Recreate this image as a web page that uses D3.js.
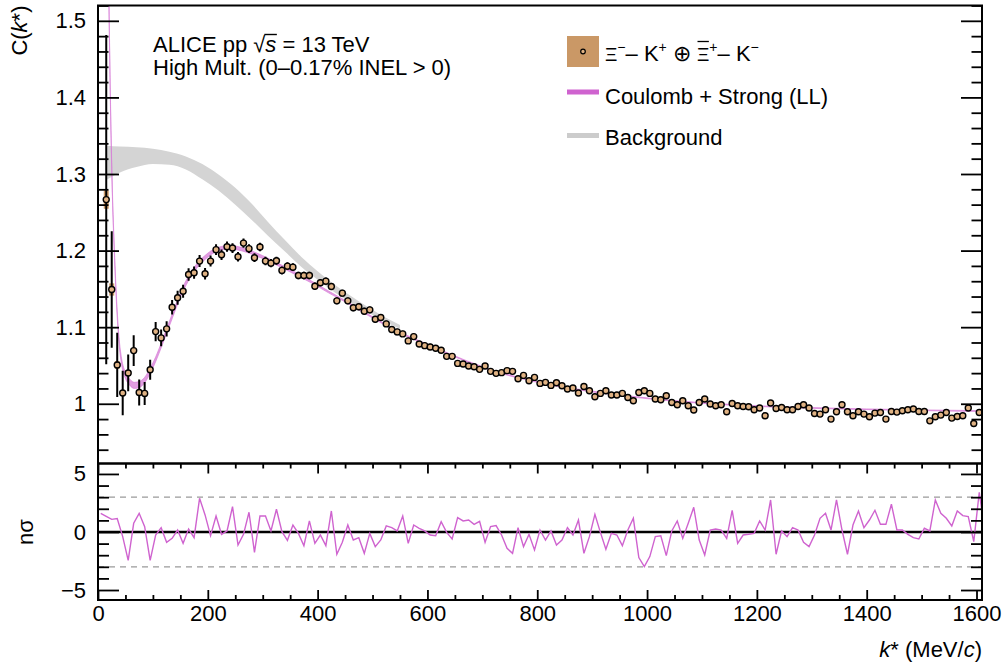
<!DOCTYPE html>
<html>
<head>
<meta charset="utf-8">
<script src="https://cdn.jsdelivr.net/npm/d3@7"></script>
<style>
  body { margin: 0; background: #fff; }
</style>
</head>
<body>
<div id="chart"></div>
<script>
// ---- data ----

// C(k*) histogram, 10 MeV/c bins, first drawn bin centred at 15 MeV/c
var binWidth = 10;
var cFirstBin = 15;
var cValues = [
  1.2666, 1.1492, 1.0507, 1.0140, 1.0402, 1.0694, 1.0148, 1.0135, 1.0445, 1.0942,
  1.0860, 1.0978, 1.1260, 1.1384, 1.1470, 1.1688, 1.1711, 1.1863, 1.1698, 1.1863,
  1.2012, 1.1946, 1.2051, 1.2033, 1.1920, 1.2098, 1.2025, 1.1907, 1.2046, 1.1863,
  1.1836, 1.1868, 1.1741, 1.1797, 1.1784, 1.1675,
  1.1675, 1.1675, 1.1535, 1.1580, 1.1601, 1.1531, 1.1344, 1.1444, 1.1344, 1.1253,
  1.1266, 1.1208, 1.1226, 1.1103, 1.1126, 1.1043, 1.0969, 1.0938, 1.0912, 1.0821,
  1.0877, 1.0781, 1.0759, 1.0742, 1.0724, 1.0698, 1.0619, 1.0619, 1.0527, 1.0519,
  1.0493, 1.0484, 1.0449, 1.0493, 1.0423, 1.0397, 1.0406, 1.0432, 1.0423, 1.0327,
  1.0370, 1.0301, 1.0344, 1.0266, 1.0279, 1.0240, 1.0275, 1.0236, 1.0192, 1.0205,
  1.0140, 1.0226, 1.0170, 1.0092, 1.0135, 1.0170, 1.0114, 1.0114,
  1.0135, 1.0082, 1.0039, 1.0148, 1.0170, 1.0135, 1.0062, 1.0052, 1.0105, 1.0017,
  0.9987, 1.0039, 0.9974, 0.9918, 1.0017, 1.0062, 0.9996, 0.9974, 0.9987, 0.9895,
  1.0004, 0.9974, 0.9965, 0.9961, 0.9921, 0.9944, 0.9843, 1.0009, 0.9938, 0.9952,
  0.9921, 0.9921, 0.9965, 0.9987, 0.9944, 0.9873, 0.9865, 0.9921, 0.9800, 0.9895,
  0.9987, 0.9895, 0.9843, 0.9895, 0.9865, 0.9830, 0.9878, 0.9886, 0.9800, 0.9899,
  0.9891, 0.9908, 0.9921, 0.9931, 0.9899, 0.9899, 0.9777, 0.9830, 0.9852, 0.9886,
  0.9813, 0.9834, 0.9843, 0.9944, 0.9742, 0.9886
];
// statistical errors (only where they stick out of the markers)
var statErr = [
  0.215, 0.076, 0.042, 0.029, 0.024, 0.020, 0.017, 0.015, 0.013, 0.0125,
  0.011, 0.010, 0.0095, 0.009, 0.0085, 0.0082, 0.008, 0.0078, 0.0075, 0.0072,
  0.007, 0.0068, 0.0066, 0.0064, 0.0062, 0.006, 0.0058, 0.0057, 0.0056, 0.0055,
  0.0054, 0.0053, 0.0052, 0.0051, 0.005, 0.005, 0.0049, 0.0048, 0.0048, 0.0047,
  0.0047, 0.0046, 0.0046, 0.0045, 0.0045, 0.0044, 0.0044, 0.0044, 0.0043, 0.0043,
  0.0043, 0.0042, 0.0042, 0.0042, 0.0041, 0.0041, 0.0041, 0.004, 0.004, 0.004
];
// systematic errors (boxes)
var sysErr = [
  0.012, 0.008, 0.005, 0.004, 0.0035, 0.003, 0.003, 0.003, 0.003, 0.003,
  0.0028, 0.0028, 0.0027, 0.0027, 0.0026, 0.0026, 0.0025, 0.0025, 0.0025, 0.0025
];

// Coulomb + Strong (LL) fit band
var fitK = [12, 16, 20, 23, 26, 30, 34, 38, 43, 50,
            58, 66, 75, 85, 95, 105, 115, 125, 135, 150,
            165, 180, 195, 210, 225, 240, 255, 270, 285, 300,
            330, 360, 390, 420, 450, 490, 550, 610, 670, 730,
            790, 850, 910, 970, 1030, 1100, 1200, 1300, 1400, 1500, 1610];
var fitC = [2.2, 1.75, 1.52, 1.38, 1.28, 1.195, 1.13, 1.085, 1.055, 1.037,
            1.028, 1.024, 1.025, 1.031, 1.043, 1.058, 1.076, 1.095, 1.114, 1.142,
            1.164, 1.180, 1.191, 1.199, 1.203, 1.2045, 1.203, 1.200, 1.196, 1.1915,
            1.181, 1.170, 1.1585, 1.146, 1.134, 1.117, 1.093, 1.074, 1.056, 1.041,
            1.030, 1.0215, 1.015, 1.0095, 1.005, 1.001, 0.997, 0.9945, 0.9928, 0.9915, 0.9905];
var fitErr = [0.006, 0.006, 0.005, 0.005, 0.0045, 0.004, 0.004, 0.004, 0.004, 0.004,
              0.004, 0.004, 0.004, 0.0035, 0.0035, 0.003, 0.003, 0.003, 0.003, 0.003,
              0.003, 0.0028, 0.0026, 0.0025, 0.0024, 0.0023, 0.0022, 0.0021, 0.002, 0.0019,
              0.0017, 0.0015, 0.0013, 0.0012, 0.001, 0.0009, 0.0008, 0.0007, 0.0006, 0.0006,
              0.0005, 0.0005, 0.0005, 0.0005, 0.0005, 0.0005, 0.0005, 0.0005, 0.0005, 0.0005, 0.0005];

// Background band
var bgK  = [15, 40, 70, 100, 130, 160, 190, 220, 250, 280, 310, 340, 370, 400, 430, 460, 490, 520, 550];
var bgLo = [1.292, 1.302, 1.309, 1.313, 1.312, 1.306, 1.293, 1.278, 1.260, 1.240,
            1.219, 1.199, 1.179, 1.162, 1.146, 1.132, 1.120, 1.108, 1.098];
var bgHi = [1.337, 1.336, 1.335, 1.333, 1.329, 1.323, 1.313, 1.299, 1.282, 1.261,
            1.237, 1.214, 1.192, 1.173, 1.156, 1.141, 1.127, 1.114, 1.103];

// n sigma deviation, same 10 MeV/c bins, first bin centred at 5 MeV/c
var nsFirstBin = 5;
var nSigma = [
  1.61, 1.35, 1.09, 1.15, -0.40, -2.44, 0.75, 1.61, 0.46, -2.44,
  -0.26, 0.37, -0.89, -0.55, 0.17, -0.98, 0.26, -0.49, 2.90, 1.47,
  -0.32, 1.38, -0.20, 0.09, 2.18, -1.12, -0.20, 1.70, -1.75, 1.38,
  1.38, 0.09, 1.96, 0.03, -0.72, 0.60, -0.12, -1.18, 0.95, -0.98,
  -0.26, -1.18, 1.81, -1.92, -0.89, 0.60, -0.69, -0.49, -1.84, -0.12,
  -1.26, -0.69, 0.52, 0.37, 0.09, 1.38, -0.98, 0.60, 0.32, 0.09,
  -0.26, -0.32, 0.89, -0.03, -0.60, 1.24, 0.95, 1.03, 0.66, 0.92,
  -0.89, 0.46, 0.55, -0.26, -1.41, -1.84, 0.37, -1.26, -0.20, -1.55,
  0.17, -0.69, 0.09, -1.12, -0.69, 0.37, -0.26, 1.03, -1.84, -0.40,
  1.52, -0.03, -1.49, -0.12, -0.26, -1.18, 0.17, 1.18, -2.21, -2.99,
  -2.12, -0.40, -0.32, -2.04, 0.09, 0.95, -0.55, 0.75, 2.13, -0.69,
  -1.98, 0.17, 0.26, 0.17, -0.55, 1.87, -0.98, -0.26, -0.20, -0.12,
  0.95, 0.17, 2.76, -1.92, 0.09, -0.40, 0.37, 0.17, -0.89, -1.26,
  -0.26, 1.18, 1.61, 0.17, 2.76, 0.17, -1.92, 0.60, 1.81, 0.37,
  1.03, 1.87, 0.66, 0.66, 2.39, 0.17, 0.17, -0.20, -0.49, -0.60,
  0.32, 0.09, 2.76, 1.61, 1.18, 0.52, 1.81, 1.41, 1.32, -0.83,
  3.42, 0.10
];

// ticks
var xTicks = [0, 200, 400, 600, 800, 1000, 1200, 1400, 1600];
var yTicksTop = [1, 1.1, 1.2, 1.3, 1.4, 1.5];
var yTicksBot = [-5, 0, 5];
var nsGuides = [-3, 3];

// ---- layout ----
var W = 1003, H = 667;
var frame = {left: 98, right: 982, top: 5.5, mid: 463.5, bottom: 600};
var FS = 22;

var colMarker = "#e0b283", colSys = "#ca9866", colFit = "#d77cd7",
    colNs = "#cf63cf", colBg = "#d4d4d4";

var svg = d3.select("#chart").append("svg")
    .attr("width", W)
    .attr("height", H)
    .style("font-family", "'Liberation Sans', Arial, Helvetica, sans-serif");

// set the ranges
var x = d3.scaleLinear().domain([0, 1610]).range([frame.left, frame.right]);
var yUp = d3.scaleLinear().domain([0.922, 1.52]).range([frame.mid, frame.top]);
var yDn = d3.scaleLinear().domain([-5.86, 5.9]).range([frame.bottom, frame.mid]);

var defs = svg.append("defs");
defs.append("clipPath").attr("id", "clipUp").append("rect")
    .attr("x", frame.left).attr("y", frame.top)
    .attr("width", frame.right - frame.left).attr("height", frame.mid - frame.top);
defs.append("clipPath").attr("id", "clipDn").append("rect")
    .attr("x", frame.left).attr("y", frame.mid)
    .attr("width", frame.right - frame.left).attr("height", frame.bottom - frame.mid);

// ---- upper panel ----
var up = svg.append("g").attr("clip-path", "url(#clipUp)");

var bgData = bgK.map(function (k, i) { return {k: k, lo: bgLo[i], hi: bgHi[i]}; });
up.append("path")
    .datum(bgData)
    .attr("fill", colBg)
    .attr("d", d3.area()
        .x(function (d) { return x(d.k); })
        .y0(function (d) { return yUp(d.lo); })
        .y1(function (d) { return yUp(d.hi); })
        .curve(d3.curveMonotoneX));

var fitData = fitK.map(function (k, i) { return {k: k, c: fitC[i], e: fitErr[i]}; });
up.append("path")
    .datum(fitData)
    .attr("fill", colFit)
    .attr("fill-opacity", 0.75)
    .attr("stroke", colFit)
    .attr("stroke-opacity", 0.75)
    .attr("stroke-width", 0.9)
    .attr("d", d3.area()
        .x(function (d) { return x(d.k); })
        .y0(function (d) { return yUp(d.c - d.e); })
        .y1(function (d) { return yUp(d.c + d.e); })
        .curve(d3.curveMonotoneX));

var pts = cValues.map(function (c, i) {
    return {k: cFirstBin + i * binWidth, c: c, stat: statErr[i], sys: sysErr[i]};
});

up.selectAll("rect.sys")
    .data(pts.filter(function (d) { return d.sys !== undefined; }))
    .enter().append("rect")
    .attr("class", "sys")
    .attr("fill", colSys)
    .attr("x", function (d) { return x(d.k - 4.5); })
    .attr("width", function (d) { return x(d.k + 4.5) - x(d.k - 4.5); })
    .attr("y", function (d) { return yUp(d.c + d.sys); })
    .attr("height", function (d) { return yUp(d.c - d.sys) - yUp(d.c + d.sys); });

up.selectAll("line.stat")
    .data(pts.filter(function (d) { return d.stat !== undefined; }))
    .enter().append("line")
    .attr("class", "stat")
    .attr("stroke", "#000")
    .attr("stroke-width", 2)
    .attr("x1", function (d) { return x(d.k); })
    .attr("x2", function (d) { return x(d.k); })
    .attr("y1", function (d) { return yUp(d.c - d.stat); })
    .attr("y2", function (d) { return yUp(d.c + d.stat); });

svg.selectAll("circle.pt")
    .data(pts)
    .enter().append("circle")
    .attr("class", "pt")
    .attr("cx", function (d) { return x(d.k); })
    .attr("cy", function (d) { return yUp(d.c); })
    .attr("r", 3)
    .attr("fill", colMarker)
    .attr("stroke", "#000")
    .attr("stroke-width", 1.4);

// ---- lower panel ----
var dn = svg.append("g").attr("clip-path", "url(#clipDn)");

dn.selectAll("line.guide")
    .data(nsGuides)
    .enter().append("line")
    .attr("class", "guide")
    .attr("x1", frame.left).attr("x2", frame.right)
    .attr("y1", function (d) { return yDn(d); })
    .attr("y2", function (d) { return yDn(d); })
    .attr("stroke", "#9a9a9a")
    .attr("stroke-width", 1.3)
    .attr("stroke-dasharray", "6,5");

dn.append("line")
    .attr("x1", frame.left).attr("x2", frame.right)
    .attr("y1", yDn(0)).attr("y2", yDn(0))
    .attr("stroke", "#000")
    .attr("stroke-width", 2.6);

var nsData = nSigma.map(function (v, i) { return {k: nsFirstBin + i * binWidth, v: v}; });
dn.append("path")
    .datum(nsData)
    .attr("fill", "none")
    .attr("stroke", colNs)
    .attr("stroke-width", 1.4)
    .attr("d", d3.line()
        .x(function (d) { return x(d.k); })
        .y(function (d) { return yDn(d.v); }));

// ---- axes ----
function styleAxis(g) {
    g.attr("font-size", FS).attr("font-family", null);
    g.select(".domain").remove();
    g.selectAll(".tick line").attr("stroke-width", 1.8);
}

var minorTop = d3.range(0.94, 1.521, 0.02).filter(function (v) {
    return Math.abs(v * 10 - Math.round(v * 10)) > 1e-6;
});
var fmtTop = function (d) { return d === 1 ? "1" : d3.format(".1f")(d); };

// upper left
svg.append("g").attr("transform", "translate(" + frame.left + ",0)")
    .call(d3.axisLeft(yUp).tickValues(yTicksTop).tickSize(-21).tickPadding(12).tickFormat(fmtTop))
    .call(styleAxis);
svg.append("g").attr("transform", "translate(" + frame.left + ",0)")
    .call(d3.axisLeft(yUp).tickValues(minorTop).tickSize(-10.5).tickFormat(""))
    .call(styleAxis);
// upper right
svg.append("g").attr("transform", "translate(" + frame.right + ",0)")
    .call(d3.axisRight(yUp).tickValues(yTicksTop).tickSize(-21).tickFormat(""))
    .call(styleAxis);
svg.append("g").attr("transform", "translate(" + frame.right + ",0)")
    .call(d3.axisRight(yUp).tickValues(minorTop).tickSize(-10.5).tickFormat(""))
    .call(styleAxis);

var minorDn = d3.range(-5, 6, 1).filter(function (v) { return v % 5 !== 0; });
// lower left / right
svg.append("g").attr("transform", "translate(" + frame.left + ",0)")
    .call(d3.axisLeft(yDn).tickValues(yTicksBot).tickSize(-21).tickPadding(12))
    .call(styleAxis);
svg.append("g").attr("transform", "translate(" + frame.left + ",0)")
    .call(d3.axisLeft(yDn).tickValues(minorDn).tickSize(-11).tickFormat(""))
    .call(styleAxis);
svg.append("g").attr("transform", "translate(" + frame.right + ",0)")
    .call(d3.axisRight(yDn).tickValues(yTicksBot).tickSize(-21).tickFormat(""))
    .call(styleAxis);
svg.append("g").attr("transform", "translate(" + frame.right + ",0)")
    .call(d3.axisRight(yDn).tickValues(minorDn).tickSize(-11).tickFormat(""))
    .call(styleAxis);

var minorX = d3.range(0, 1610, 50).filter(function (v) { return v % 200 !== 0; });
// lower x axis (bottom and top edge)
svg.append("g").attr("transform", "translate(0," + frame.bottom + ")")
    .call(d3.axisBottom(x).tickValues(xTicks).tickSize(-10).tickPadding(5.5).tickFormat(d3.format("d")))
    .call(styleAxis);
svg.append("g").attr("transform", "translate(0," + frame.bottom + ")")
    .call(d3.axisBottom(x).tickValues(minorX).tickSize(-5).tickFormat(""))
    .call(styleAxis);
svg.append("g").attr("transform", "translate(0," + frame.mid + ")")
    .call(d3.axisTop(x).tickValues(xTicks).tickSize(-10).tickFormat(""))
    .call(styleAxis);
svg.append("g").attr("transform", "translate(0," + frame.mid + ")")
    .call(d3.axisTop(x).tickValues(minorX).tickSize(-5).tickFormat(""))
    .call(styleAxis);

// frames
svg.append("rect")
    .attr("x", frame.left).attr("y", frame.top)
    .attr("width", frame.right - frame.left).attr("height", frame.mid - frame.top)
    .attr("fill", "none").attr("stroke", "#000").attr("stroke-width", 2);
svg.append("rect")
    .attr("x", frame.left).attr("y", frame.mid)
    .attr("width", frame.right - frame.left).attr("height", frame.bottom - frame.mid)
    .attr("fill", "none").attr("stroke", "#000").attr("stroke-width", 2);

// ---- axis titles ----
var yt = svg.append("text")
    .attr("transform", "translate(27," + frame.top + ") rotate(-90)")
    .attr("text-anchor", "end")
    .attr("font-size", FS);
yt.append("tspan").text("C(");
yt.append("tspan").attr("font-style", "italic").text("k");
yt.append("tspan").text("*)");

svg.append("text")
    .attr("transform", "translate(33," + yDn(0) + ") rotate(-90)")
    .attr("text-anchor", "middle")
    .attr("font-size", FS)
    .text("n\u03C3");

var xt = svg.append("text")
    .attr("x", frame.right).attr("y", 657)
    .attr("text-anchor", "end")
    .attr("font-size", FS);
xt.append("tspan").attr("font-style", "italic").text("k");
xt.append("tspan").text("* (MeV/");
xt.append("tspan").attr("font-style", "italic").text("c");
xt.append("tspan").text(")");

// ---- header text ----
var h1 = svg.append("text").attr("x", 153).attr("y", 51.5).attr("font-size", FS);
h1.append("tspan").text("ALICE pp ");
h1.append("tspan").text("\u221A");
h1.append("tspan").attr("font-style", "italic").text("s");
h1.append("tspan").text(" = 13 TeV");
var h1n = h1.node();
svg.append("line")
    .attr("x1", h1n.getEndPositionOfChar(9).x - 1)
    .attr("x2", h1n.getEndPositionOfChar(10).x + 0.5)
    .attr("y1", 34.5).attr("y2", 34.5)
    .attr("stroke", "#000").attr("stroke-width", 1.4);

svg.append("text").attr("x", 153).attr("y", 74.5).attr("font-size", FS)
    .text("High Mult. (0\u20130.17% INEL > 0)");

// ---- legend ----
var lgX = 567, lgW = 32, txtX = 605;

svg.append("rect").attr("x", lgX).attr("y", 36).attr("width", lgW).attr("height", 31)
    .attr("fill", colSys);
svg.append("circle").attr("cx", lgX + lgW / 2).attr("cy", 51.5).attr("r", 2.3)
    .attr("fill", colMarker).attr("stroke", "#000").attr("stroke-width", 1.2);

var l1 = svg.append("text").attr("x", txtX).attr("y", 61).attr("font-size", FS);
var parts = [
    {t: "\u039E", size: 19},
    {t: "\u2212", size: 14, dy: -9},
    {t: "\u2013 K", dy: 9},
    {t: "+", size: 14, dy: -9},
    {t: " \u2295 ", dy: 9},
    {t: "\u039E", size: 19},
    {t: "+", size: 14, dy: -9},
    {t: "\u2013 K", dy: 9},
    {t: "\u2212", size: 14, dy: -9}
];
parts.forEach(function (p) {
    var ts = l1.append("tspan").text(p.t);
    if (p.size) ts.attr("font-size", p.size);
    if (p.dy) ts.attr("dy", p.dy);
});
var l1n = l1.node();
svg.append("line")
    .attr("x1", l1n.getStartPositionOfChar(9).x + 0.5)
    .attr("x2", l1n.getEndPositionOfChar(9).x - 0.5)
    .attr("y1", 41.5).attr("y2", 41.5)
    .attr("stroke", "#000").attr("stroke-width", 1.3);

svg.append("rect").attr("x", lgX).attr("y", 89.5).attr("width", lgW).attr("height", 5)
    .attr("fill", colNs);
svg.append("text").attr("x", txtX).attr("y", 103.5).attr("font-size", FS)
    .text("Coulomb + Strong (LL)");

svg.append("rect").attr("x", lgX).attr("y", 133).attr("width", lgW).attr("height", 5)
    .attr("fill", "#cccccc");
svg.append("text").attr("x", txtX).attr("y", 144.5).attr("font-size", FS)
    .text("Background");
</script>
</body>
</html>
